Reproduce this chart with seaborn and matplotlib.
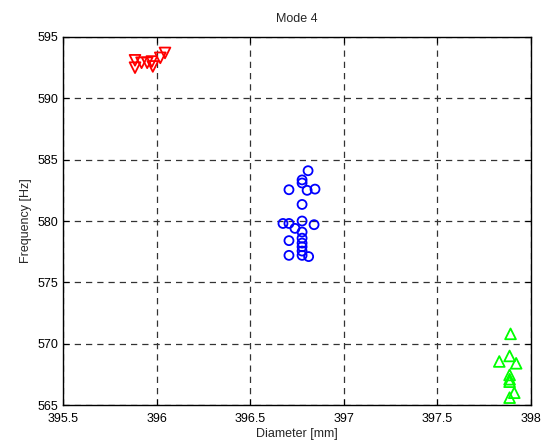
import matplotlib
matplotlib.use("Agg")
import matplotlib.pyplot as plt
import seaborn as sns
import pandas as pd

# Data
red_d = [395.885, 395.885, 395.92, 395.95, 395.975, 395.98, 396.02, 396.045]
red_f = [593.1, 592.5, 592.9, 592.9, 593.0, 592.6, 593.3, 593.7]

blue_d = [396.809, 396.777, 396.777, 396.707, 396.804, 396.846, 396.777,
          396.675, 396.707, 396.777, 396.841, 396.739, 396.777, 396.777,
          396.777, 396.707, 396.777, 396.777, 396.707, 396.777, 396.812]
blue_f = [584.1, 583.35, 583.1, 582.55, 582.5, 582.6, 581.35,
          579.8, 579.8, 580.0, 579.7, 579.4, 579.1, 578.6,
          578.2, 578.4, 577.9, 577.55, 577.2, 577.2, 577.1]

green_d = [397.89, 397.83, 397.885, 397.92, 397.885, 397.885, 397.885, 397.91, 397.885]
green_f = [570.8, 568.55, 569.0, 568.4, 567.45, 567.1, 566.9, 566.0, 565.6]

x_ticks = [395.5, 396, 396.5, 397, 397.5, 398]
x_labels = ["395.5", "396", "396.5", "397", "397.5", "398"]
y_ticks = [565, 570, 575, 580, 585, 590, 595]

sns.set_style("white")
plt.rcParams['font.family'] = ['Liberation Sans', 'DejaVu Sans']

fig = plt.figure(figsize=(5.47, 4.41), dpi=100)
ax = fig.add_axes([0.115, 0.0816, 0.856, 0.8345])

groups = [
    (red_d, red_f, "#ff0000", "v", 60),
    (blue_d, blue_f, "#0000ff", "o", 42),
    (green_d, green_f, "#00ff00", "^", 60),
]
for d, f, c, m, s in groups:
    df = pd.DataFrame({"Diameter": d, "Frequency": f})
    sns.scatterplot(data=df, x="Diameter", y="Frequency", ax=ax,
                    marker=m, s=s, facecolors="none", edgecolor=c,
                    linewidth=1.3, zorder=3)

ax.set_xlim(395.5, 398)
ax.set_ylim(565, 595)
ax.set_xticks(x_ticks)
ax.set_xticklabels(x_labels)
ax.set_yticks(y_ticks)
ax.grid(True, color="#333333", linestyle=(0, (5, 4)), linewidth=0.9)
for sp in ax.spines.values():
    sp.set_color("black")
    sp.set_linewidth(1.0)
ax.tick_params(labelsize=9, colors="black", length=4, direction="in",
               top=True, right=True, bottom=True, left=True)
ax.tick_params(axis="x", pad=6)
ax.set_xlabel("Diameter [mm]", fontsize=9, labelpad=2)
ax.set_ylabel("Frequency [Hz]", fontsize=9, labelpad=4)
ax.set_title("Mode 4", fontsize=9, pad=11)

fig.savefig("out.png", dpi=100)
